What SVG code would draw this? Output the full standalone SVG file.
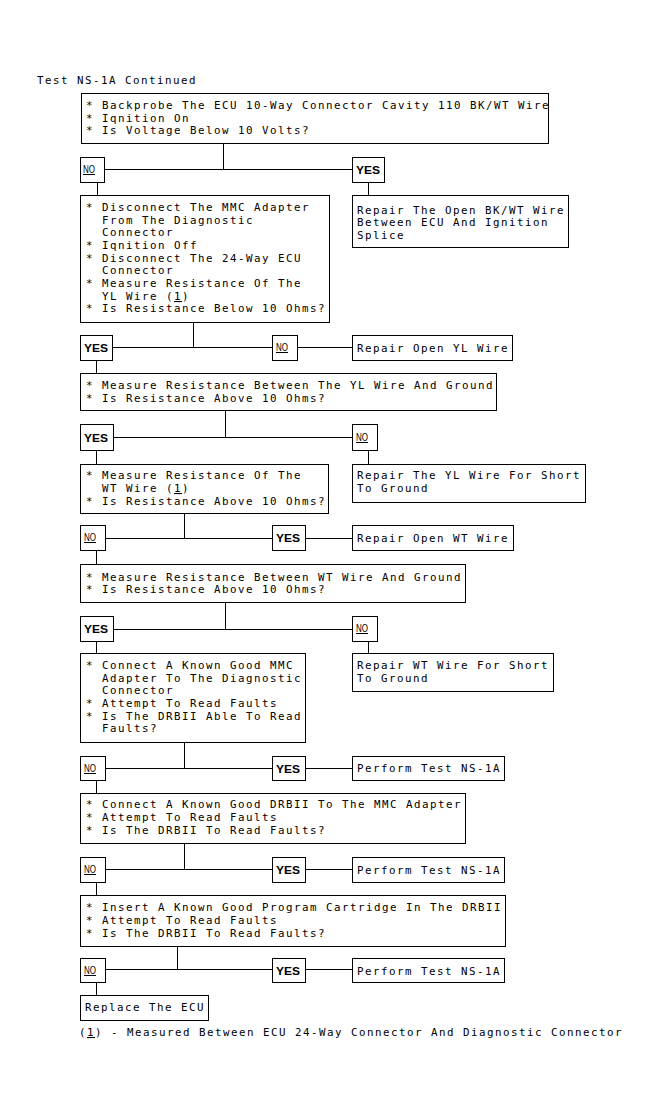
<svg xmlns="http://www.w3.org/2000/svg" width="656" height="1115" viewBox="0 0 656 1115">
<style>
.b{fill:#fff;stroke:#000;stroke-width:1}
.c{fill:none;stroke:#000;stroke-width:1}
.t{font-family:"DejaVu Sans Mono","Liberation Mono",monospace;font-size:10.8px;letter-spacing:1.5px;fill:#000}
.y{font-family:"Liberation Sans",Arial,sans-serif;font-weight:bold;font-size:11px;fill:#000}
.n{font-family:"Liberation Sans",Arial,sans-serif;font-size:10px;fill:#000;text-decoration:underline}
.u{text-decoration:underline}
</style>
<rect width="656" height="1115" fill="#fff"/>
<g id="connectors">
<path class="c" d="M223.5 143V169.5M104 169.5H352M97.5 182V195M368.5 182V195"/>
<path class="c" d="M193.5 322V347.5M112 347.5H272M297 347.5H352M96.5 360V373"/>
<path class="c" d="M225.5 410V437.5M113 437.5H352M96.5 450V464M368.5 450V464"/>
<path class="c" d="M184.5 513V538.5M105 538.5H272M305 538.5H352M96.5 550V564"/>
<path class="c" d="M225.5 602V629.5M113 629.5H352M96.5 641V653M368.5 641V653"/>
<path class="c" d="M184.5 742V768.5M105 768.5H272M305 768.5H352M96.5 780V793"/>
<path class="c" d="M184.5 843V869.5M105 869.5H272M305 869.5H352M96.5 882V895"/>
<path class="c" d="M177.5 946V969.5M105 969.5H272M305 969.5H352M96.5 982V995"/>
</g>
<g id="title"><text class="t" x="37" y="84">Test NS-1A Continued</text></g>
<g id="n1"><rect class="b" x="81.5" y="93.5" width="467" height="50"/>
<text class="t" x="86" y="109">* Backprobe The ECU 10-Way Connector Cavity 110 BK/WT Wire</text>
<text class="t" x="86" y="122">* Iqnition On</text>
<text class="t" x="86" y="134">* Is Voltage Below 10 Volts?</text></g>
<g id="no1"><rect class="b" x="80.5" y="157.5" width="24" height="25"/><text class="n" x="83" y="173" textLength="12" lengthAdjust="spacingAndGlyphs">NO</text></g>
<g id="yes1"><rect class="b" x="352.5" y="157.5" width="32" height="25"/><text class="y" x="356" y="174" textLength="24" lengthAdjust="spacingAndGlyphs">YES</text></g>
<g id="r1"><rect class="b" x="352.5" y="195.5" width="216" height="52"/>
<text class="t" x="357" y="214">Repair The Open BK/WT Wire</text>
<text class="t" x="357" y="226">Between ECU And Ignition</text>
<text class="t" x="357" y="239">Splice</text></g>
<g id="n2"><rect class="b" x="80.5" y="195.5" width="249" height="127"/>
<text class="t" x="86" y="211">* Disconnect The MMC Adapter</text>
<text class="t" x="102" y="224">From The Diagnostic</text>
<text class="t" x="102" y="236">Connector</text>
<text class="t" x="86" y="249">* Iqnition Off</text>
<text class="t" x="86" y="262">* Disconnect The 24-Way ECU</text>
<text class="t" x="102" y="274">Connector</text>
<text class="t" x="86" y="287">* Measure Resistance Of The</text>
<text class="t" x="102" y="300">YL Wire (<tspan class="u">1</tspan>)</text>
<text class="t" x="86" y="312">* Is Resistance Below 10 Ohms?</text></g>
<g id="yes2"><rect class="b" x="80.5" y="335.5" width="32" height="25"/><text class="y" x="84" y="352" textLength="24" lengthAdjust="spacingAndGlyphs">YES</text></g>
<g id="no2"><rect class="b" x="272.5" y="335.5" width="25" height="25"/><text class="n" x="276" y="351" textLength="12" lengthAdjust="spacingAndGlyphs">NO</text></g>
<g id="r2"><rect class="b" x="352.5" y="335.5" width="160" height="25"/><text class="t" x="357" y="352">Repair Open YL Wire</text></g>
<g id="n3"><rect class="b" x="80.5" y="373.5" width="416" height="37"/>
<text class="t" x="86" y="389">* Measure Resistance Between The YL Wire And Ground</text>
<text class="t" x="86" y="402">* Is Resistance Above 10 Ohms?</text></g>
<g id="yes3"><rect class="b" x="80.5" y="424.5" width="33" height="26"/><text class="y" x="84" y="442" textLength="24" lengthAdjust="spacingAndGlyphs">YES</text></g>
<g id="no3"><rect class="b" x="352.5" y="424.5" width="25" height="26"/><text class="n" x="356" y="441" textLength="12" lengthAdjust="spacingAndGlyphs">NO</text></g>
<g id="n4"><rect class="b" x="80.5" y="464.5" width="248" height="49"/>
<text class="t" x="86" y="479">* Measure Resistance Of The</text>
<text class="t" x="102" y="492">WT Wire (<tspan class="u">1</tspan>)</text>
<text class="t" x="86" y="505">* Is Resistance Above 10 Ohms?</text></g>
<g id="r3"><rect class="b" x="352.5" y="464.5" width="233" height="38"/>
<text class="t" x="357" y="479">Repair The YL Wire For Short</text>
<text class="t" x="357" y="492">To Ground</text></g>
<g id="no4"><rect class="b" x="80.5" y="525.5" width="25" height="25"/><text class="n" x="84" y="541" textLength="12" lengthAdjust="spacingAndGlyphs">NO</text></g>
<g id="yes4"><rect class="b" x="272.5" y="525.5" width="33" height="25"/><text class="y" x="276" y="542" textLength="24" lengthAdjust="spacingAndGlyphs">YES</text></g>
<g id="r4"><rect class="b" x="352.5" y="525.5" width="161" height="25"/><text class="t" x="357" y="542">Repair Open WT Wire</text></g>
<g id="n5"><rect class="b" x="80.5" y="564.5" width="385" height="38"/>
<text class="t" x="86" y="581">* Measure Resistance Between WT Wire And Ground</text>
<text class="t" x="86" y="593">* Is Resistance Above 10 Ohms?</text></g>
<g id="yes5"><rect class="b" x="80.5" y="616.5" width="33" height="25"/><text class="y" x="84" y="633" textLength="24" lengthAdjust="spacingAndGlyphs">YES</text></g>
<g id="no5"><rect class="b" x="352.5" y="616.5" width="25" height="25"/><text class="n" x="356" y="632" textLength="12" lengthAdjust="spacingAndGlyphs">NO</text></g>
<g id="n6"><rect class="b" x="80.5" y="653.5" width="225" height="89"/>
<text class="t" x="86" y="669">* Connect A Known Good MMC</text>
<text class="t" x="102" y="682">Adapter To The Diagnostic</text>
<text class="t" x="102" y="694">Connector</text>
<text class="t" x="86" y="707">* Attempt To Read Faults</text>
<text class="t" x="86" y="720">* Is The DRBII Able To Read</text>
<text class="t" x="102" y="732">Faults?</text></g>
<g id="r5"><rect class="b" x="352.5" y="653.5" width="201" height="38"/>
<text class="t" x="357" y="669">Repair WT Wire For Short</text>
<text class="t" x="357" y="682">To Ground</text></g>
<g id="no6"><rect class="b" x="80.5" y="756.5" width="25" height="24"/><text class="n" x="84" y="772" textLength="12" lengthAdjust="spacingAndGlyphs">NO</text></g>
<g id="yes6"><rect class="b" x="272.5" y="756.5" width="33" height="24"/><text class="y" x="276" y="773" textLength="24" lengthAdjust="spacingAndGlyphs">YES</text></g>
<g id="r6"><rect class="b" x="352.5" y="756.5" width="152" height="24"/><text class="t" x="357" y="772">Perform Test NS-1A</text></g>
<g id="n7"><rect class="b" x="80.5" y="793.5" width="385" height="50"/>
<text class="t" x="86" y="808">* Connect A Known Good DRBII To The MMC Adapter</text>
<text class="t" x="86" y="821">* Attempt To Read Faults</text>
<text class="t" x="86" y="834">* Is The DRBII To Read Faults?</text></g>
<g id="no7"><rect class="b" x="80.5" y="857.5" width="25" height="25"/><text class="n" x="84" y="873" textLength="12" lengthAdjust="spacingAndGlyphs">NO</text></g>
<g id="yes7"><rect class="b" x="272.5" y="857.5" width="33" height="25"/><text class="y" x="276" y="874" textLength="24" lengthAdjust="spacingAndGlyphs">YES</text></g>
<g id="r7"><rect class="b" x="352.5" y="857.5" width="152" height="25"/><text class="t" x="357" y="874">Perform Test NS-1A</text></g>
<g id="n8"><rect class="b" x="80.5" y="895.5" width="425" height="51"/>
<text class="t" x="86" y="911">* Insert A Known Good Program Cartridge In The DRBII</text>
<text class="t" x="86" y="924">* Attempt To Read Faults</text>
<text class="t" x="86" y="937">* Is The DRBII To Read Faults?</text></g>
<g id="no8"><rect class="b" x="80.5" y="958.5" width="25" height="24"/><text class="n" x="84" y="974" textLength="12" lengthAdjust="spacingAndGlyphs">NO</text></g>
<g id="yes8"><rect class="b" x="272.5" y="958.5" width="33" height="24"/><text class="y" x="276" y="975" textLength="24" lengthAdjust="spacingAndGlyphs">YES</text></g>
<g id="r8"><rect class="b" x="352.5" y="958.5" width="152" height="24"/><text class="t" x="357" y="975">Perform Test NS-1A</text></g>
<g id="n9"><rect class="b" x="80.5" y="995.5" width="128" height="25"/><text class="t" x="85" y="1011">Replace The ECU</text></g>
<g id="footnote"><text class="t" x="79" y="1036">(<tspan class="u">1</tspan>) - Measured Between ECU 24-Way Connector And Diagnostic Connector</text></g>
</svg>
